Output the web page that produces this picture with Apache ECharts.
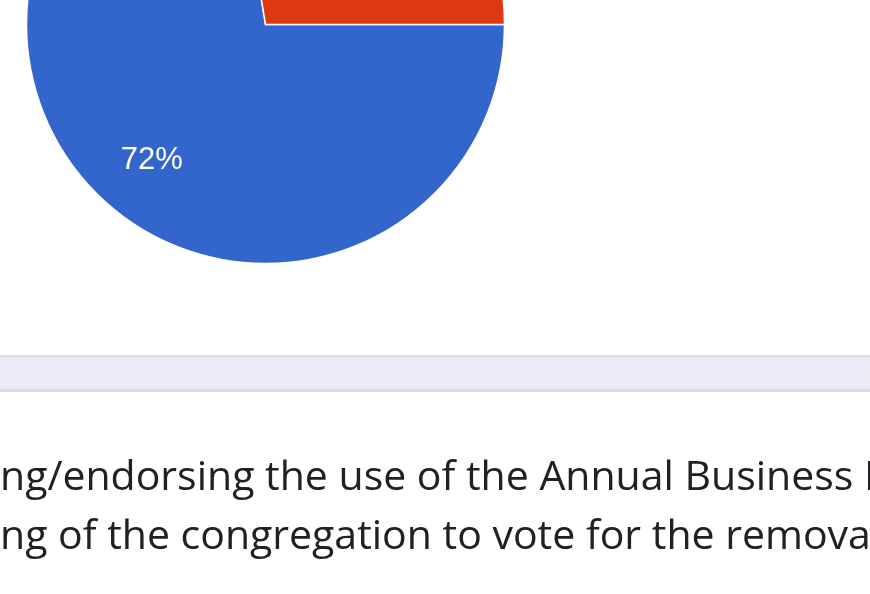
<!DOCTYPE html>
<html>
<head>
<meta charset="utf-8">
<script src="https://cdn.jsdelivr.net/npm/echarts@6/dist/echarts.min.js"></script>
<style>
html,body{margin:0;padding:0;background:#fff;}
#chart{width:870px;height:594px;}
</style>
</head>
<body>
<div id="chart"></div>
<script>
// Data
const categories = ['Yes', 'No'];
const values = [21, 8];
const colors = ['#3366cc', '#dc3912'];
const textLines = [
  'ng/endorsing the use of the Annual Business M',
  'ng of the congregation to vote for the remova'
];

const data = categories.map((c, i) => ({ name: c, value: values[i], itemStyle: { color: colors[i] } }));
const total = values.reduce((a, b) => a + b, 0);

const chart = echarts.init(document.getElementById('chart'), null, { renderer: 'canvas' });
chart.setOption({
  animation: false,
  backgroundColor: '#ffffff',
  series: [
    {
      type: 'pie',
      center: [265.5, 24.5],
      radius: [0, 239],
      startAngle: 0,
      clockwise: true,
      silent: true,
      label: { show: false },
      labelLine: { show: false },
      itemStyle: { borderColor: '#ffffff', borderWidth: 1.5 },
      data: data
    },
    {
      type: 'pie',
      center: [267, 24.5],
      radius: [111, 239],
      startAngle: 0,
      clockwise: true,
      silent: true,
      labelLine: { show: false },
      itemStyle: { color: 'rgba(0,0,0,0)', borderWidth: 0 },
      label: {
        show: true,
        position: 'inside',
        color: '#ffffff',
        fontFamily: 'Liberation Sans, Arial, sans-serif',
        fontSize: 31,
        formatter: p => Math.round(p.value / total * 100) + '%'
      },
      data: categories.map((c, i) => ({ name: c, value: values[i] }))
    }
  ],
  graphic: [
    { type: 'rect', shape: { x: 0, y: 355, width: 870, height: 37 }, style: { fill: '#dadce0' }, silent: true },
    { type: 'rect', shape: { x: 0, y: 357, width: 870, height: 32 }, style: { fill: '#ede9f7' }, silent: true },
    { type: 'text', x: 0, y: 499, style: { text: textLines[0], fill: '#202124', font: '41px "Open Sans", sans-serif', verticalAlign: 'bottom' }, silent: true },
    { type: 'text', x: 0, y: 558, style: { text: textLines[1], fill: '#202124', font: '41px "Open Sans", sans-serif', verticalAlign: 'bottom' }, silent: true }
  ]
});
</script>
</body>
</html>
